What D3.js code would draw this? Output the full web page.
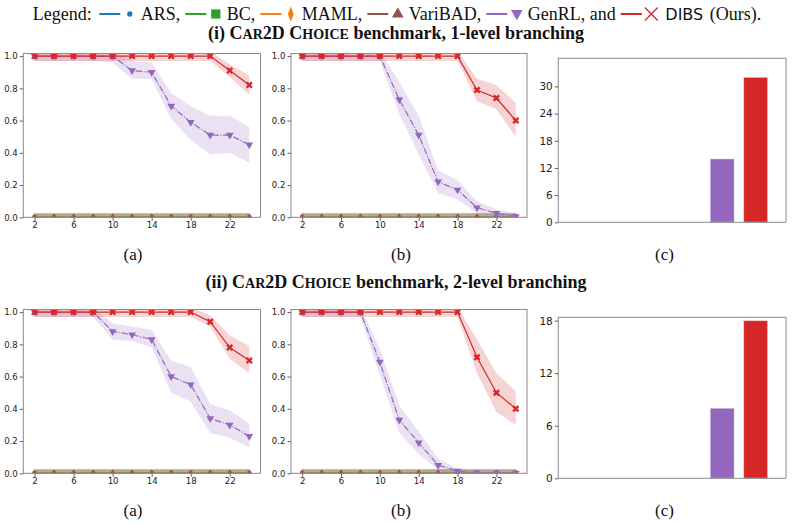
<!DOCTYPE html>
<html><head><meta charset="utf-8">
<script src="https://cdn.jsdelivr.net/npm/d3@7"></script>
<style>body{margin:0;background:#fff} svg{display:block}</style>
</head><body>
<svg id="c" width="793" height="524"></svg>
<script>
// ---------------- DATA ----------------
const steps = [2,4,6,8,10,12,14,16,18,20,22,24];
const methods = ["ARS","BC","MAML","VariBAD","GenRL","DIBS"];
const methodColors = ["#1f77b4","#2ca02c","#ff7f0e","#8c564b","#9467bd","#d62728"];
const xTickValues = [2,6,10,14,18,22];
const yTickValuesLine = [0,0.2,0.4,0.6,0.8,1.0];
const yTickValuesBar1 = [0,6,12,18,24,30];
const yTickValuesBar2 = [0,6,12,18];

// baselines (ARS, BC, MAML, VariBAD) all at zero
const zeroMean = [0,0,0,0,0,0,0,0,0,0,0,0];
const zeroLo   = [-0.025,-0.025,-0.025,-0.025,-0.025,-0.025,-0.025,-0.025,-0.025,-0.025,-0.025,-0.025];
const zeroHi   = [0.025,0.025,0.025,0.025,0.025,0.025,0.025,0.025,0.025,0.025,0.025,0.025];

// (i) 1-level (a)
const genrl1a    = [1,1,1,1,1,0.91,0.90,0.69,0.59,0.51,0.51,0.45];
const genrl1aLo  = [0.97,0.97,0.97,0.97,0.96,0.86,0.86,0.61,0.48,0.39,0.40,0.34];
const genrl1aHi  = [1.03,1.03,1.03,1.03,1.03,0.97,0.96,0.77,0.69,0.63,0.63,0.56];
const dibs1a     = [1,1,1,1,1,1,1,1,1,1,0.91,0.82];
const dibs1aLo   = [0.97,0.97,0.97,0.97,0.97,0.97,0.97,0.97,0.97,0.97,0.87,0.76];
const dibs1aHi   = [1.03,1.03,1.03,1.03,1.03,1.03,1.03,1.03,1.03,1.03,0.95,0.88];
// (i) 1-level (b)
const genrl1b    = [1,1,1,1,1,0.73,0.51,0.22,0.17,0.06,0.025,0.005];
const genrl1bLo  = [0.97,0.97,0.97,0.97,0.97,0.64,0.39,0.15,0.11,0.025,0.005,0];
const genrl1bHi  = [1.03,1.03,1.03,1.03,1.03,0.84,0.63,0.29,0.23,0.10,0.05,0.025];
const dibs1b     = [1,1,1,1,1,1,1,1,1,0.79,0.74,0.60];
const dibs1bLo   = [0.97,0.97,0.97,0.97,0.97,0.97,0.97,0.97,0.97,0.72,0.67,0.50];
const dibs1bHi   = [1.03,1.03,1.03,1.03,1.03,1.03,1.03,1.03,1.03,0.86,0.82,0.71];
// (ii) 2-level (a)
const genrl2a    = [1,1,1,1,0.88,0.86,0.83,0.60,0.55,0.34,0.30,0.23];
const genrl2aLo  = [0.97,0.97,0.97,0.97,0.83,0.82,0.78,0.50,0.445,0.25,0.22,0.16];
const genrl2aHi  = [1.03,1.03,1.03,1.03,0.93,0.91,0.89,0.70,0.66,0.43,0.39,0.31];
const dibs2a     = [1,1,1,1,1,1,1,1,1,0.94,0.78,0.70];
const dibs2aLo   = [0.97,0.97,0.97,0.97,0.97,0.97,0.97,0.97,0.97,0.91,0.71,0.62];
const dibs2aHi   = [1.03,1.03,1.03,1.03,1.03,1.03,1.03,1.03,1.03,0.98,0.855,0.79];
// (ii) 2-level (b)
const genrl2b    = [1,1,1,1,0.69,0.33,0.19,0.05,0.015,0.004,0.002,0.002];
const genrl2bLo  = [0.97,0.97,0.97,0.97,0.61,0.25,0.12,0.02,0,0,0,0];
const genrl2bHi  = [1.03,1.03,1.03,1.03,0.77,0.42,0.26,0.09,0.03,0.01,0.01,0.01];
const dibs2b     = [1,1,1,1,1,1,1,1,1,0.72,0.50,0.40];
const dibs2bLo   = [0.97,0.97,0.97,0.97,0.97,0.97,0.97,0.97,0.97,0.62,0.38,0.30];
const dibs2bHi   = [1.03,1.03,1.03,1.03,1.03,1.03,1.03,1.03,1.03,0.83,0.62,0.51];

// (c) bar values per method
const bars1 = [0,0,0,0,14,32];
const bars2 = [0,0,0,0,8,18];

const legendPrefix = "Legend:";
const legendLabels = ["ARS,","BC,","MAML,","VariBAD,","GenRL, and"];
const oursName = "DIBS";
const oursSuffix = "(Ours).";
const subLabels = ["(a)","(b)","(c)"];

// ---------------- DRAW ----------------
const svg = d3.select("#c");
const serif = "'Liberation Serif','Times New Roman',serif";
const sans = "'DejaVu Sans',sans-serif";

const symbols = {
  ARS: d3.symbolCircle, BC: d3.symbolSquare, MAML: d3.symbolDiamond,
  VariBAD: d3.symbolTriangle, GenRL: d3.symbolTriangle, DIBS: d3.symbolX
};
const dashes = { ARS:null, BC:null, MAML:"4,2", VariBAD:"1.5,1.5", GenRL:"6.4,1.6,1,1.6", DIBS:null };

function markerPath(m, size){
  return d3.symbol().type(symbols[m]).size(size)();
}

let clipId = 0;
function linePanel(box, series){
  const g = svg.append("g");
  const x = d3.scaleLinear().domain([0.85,25.15]).range([box.x0, box.x1]);
  const y = d3.scaleLinear().domain([0,1.016]).range([box.y0, box.y1]);
  const id = "clip" + (clipId++);
  svg.append("clipPath").attr("id", id).append("rect")
    .attr("x", box.x0).attr("y", box.y1).attr("width", box.x1-box.x0).attr("height", box.y0-box.y1);
  const inner = g.append("g").attr("clip-path", `url(#${id})`);
  series.forEach(s => {
    const ci = methods.indexOf(s.name), col = methodColors[ci];
    const pts = steps.map((t,i)=>({t, m:s.mean[i], lo:s.lo[i], hi:s.hi[i]}));
    inner.append("path").datum(pts)
      .attr("d", d3.area().x(d=>x(d.t)).y0(d=>y(d.lo)).y1(d=>y(d.hi)))
      .attr("fill", col).attr("fill-opacity", 0.2).attr("stroke","none");
    inner.append("path").datum(pts)
      .attr("d", d3.line().x(d=>x(d.t)).y(d=>y(d.m)))
      .attr("fill","none").attr("stroke", col).attr("stroke-width", 1.2)
      .attr("stroke-dasharray", dashes[s.name]);
    const mk = inner.selectAll(null).data(pts).enter().append("path")
      .attr("transform", d=>`translate(${x(d.t)},${y(d.m)})` + (s.name==="GenRL" ? " rotate(180)" : ""));
    if (s.name === "DIBS") {
      mk.attr("d", markerPath("DIBS", 20)).attr("fill","none").attr("stroke", col).attr("stroke-width", 2.4);
    } else if (s.name === "GenRL") {
      mk.attr("d", markerPath("GenRL", 26)).attr("fill", col);
    } else {
      mk.attr("d", markerPath(s.name, 18)).attr("fill", col);
    }
  });
  // axes
  const ax = g.append("g").attr("transform", `translate(0,${box.y0})`)
    .call(d3.axisBottom(x).tickValues(xTickValues).tickSize(3.5).tickPadding(1.5));
  const ay = g.append("g").attr("transform", `translate(${box.x0},0)`)
    .call(d3.axisLeft(y).tickValues(yTickValuesLine).tickFormat(d3.format(".1f")).tickSize(3.5).tickPadding(2));
  [ax, ay].forEach(a => {
    a.select(".domain").remove();
    a.selectAll("line").attr("stroke","#333").attr("stroke-width",0.8);
    a.selectAll("text").attr("font-family", sans).attr("font-size", 8.6).attr("fill","#222");
  });
  g.append("rect").attr("x", box.x0).attr("y", box.y1).attr("width", box.x1-box.x0).attr("height", box.y0-box.y1)
    .attr("fill","none").attr("stroke","#8a8a8a").attr("stroke-width",1);
}

function barPanel(box, values, ymax, ticks){
  const g = svg.append("g");
  const x = d3.scaleLinear().domain([-0.91,5.91]).range([box.x0, box.x1]);
  const y = d3.scaleLinear().domain([0,ymax]).range([box.y0, box.y1]);
  g.selectAll(null).data(values).enter().append("rect")
    .attr("x", (d,i)=>x(i-0.36)).attr("width", (d,i)=>x(i+0.36)-x(i-0.36))
    .attr("y", d=>y(d)).attr("height", d=>y(0)-y(d))
    .attr("fill", (d,i)=>methodColors[i])
    .attr("stroke", d=> d>0 ? "rgba(255,255,255,0.45)" : "none").attr("stroke-width", 1);
  const ay = g.append("g").attr("transform", `translate(${box.x0},0)`)
    .call(d3.axisLeft(y).tickValues(ticks).tickSize(3.5).tickPadding(2));
  ay.select(".domain").remove();
  ay.selectAll("line").attr("stroke","#333").attr("stroke-width",0.8);
  ay.selectAll("text").attr("font-family", sans).attr("font-size", 10.5).attr("fill","#222");
  g.append("rect").attr("x", box.x0).attr("y", box.y1).attr("width", box.x1-box.x0).attr("height", box.y0-box.y1)
    .attr("fill","none").attr("stroke","#8a8a8a").attr("stroke-width",1);
}

function zeroSeries(){
  return ["ARS","BC","MAML","VariBAD"].map(n=>({name:n, mean:zeroMean, lo:zeroLo, hi:zeroHi}));
}

// rows
const rows = [
  {yTop:53.5, yBot:217.3, barTop:58.3, barBot:222.3, bars:bars1, barMax:36.2, barTicks:yTickValuesBar1,
   a:[genrl1a,genrl1aLo,genrl1aHi,dibs1a,dibs1aLo,dibs1aHi],
   b:[genrl1b,genrl1bLo,genrl1bHi,dibs1b,dibs1bLo,dibs1bHi]},
  {yTop:309.5, yBot:473.3, barTop:317.3, barBot:478.3, bars:bars2, barMax:18.38, barTicks:yTickValuesBar2,
   a:[genrl2a,genrl2aLo,genrl2aHi,dibs2a,dibs2aLo,dibs2aHi],
   b:[genrl2b,genrl2bLo,genrl2bHi,dibs2b,dibs2bLo,dibs2bHi]}
];
rows.forEach(r => {
  [[r.a, 23.3, 260.5],[r.b, 291, 527]].forEach(([d, x0, x1]) => {
    const ser = zeroSeries().concat([
      {name:"GenRL", mean:d[0], lo:d[1], hi:d[2]},
      {name:"DIBS", mean:d[3], lo:d[4], hi:d[5]}
    ]);
    linePanel({x0, x1, y0:r.yBot, y1:r.yTop}, ser);
  });
  barPanel({x0:558.3, x1:786, y0:r.barBot, y1:r.barTop}, r.bars, r.barMax, r.barTicks);
});

// sub labels
[[0,260],[1,516]].forEach(([ri, by]) => {
  [133, 401, 664.5].forEach((cx, i) => {
    svg.append("text").attr("x", cx).attr("y", by).attr("text-anchor","middle")
      .attr("font-family", serif).attr("font-size", 17).attr("fill","#111").text(subLabels[i]);
  });
});

// titles
function title(y, roman, level){
  const t = svg.append("text").attr("x", 396).attr("y", y).attr("text-anchor","middle")
    .attr("font-family", serif).attr("font-weight","bold").attr("font-size", 18).attr("fill","#111");
  t.append("tspan").text(`(${roman}) C`);
  t.append("tspan").attr("font-size", 14).text("AR");
  t.append("tspan").text("2D C");
  t.append("tspan").attr("font-size", 14).text("HOICE");
  t.append("tspan").text(` benchmark, ${level}-level branching`);
}
title(38.5, "i", 1);
title(288, "ii", 2);

// legend
const lg = svg.append("g");
const ly = 19.5, lmy = 14;
let cx = 0;
function ltext(str, fam, size){
  const t = lg.append("text").attr("x", cx).attr("y", ly).attr("font-family", fam)
    .attr("font-size", size).attr("fill","#111").text(str);
  cx += t.node().getComputedTextLength();
  return t;
}
ltext(legendPrefix, serif, 18);
methods.forEach((m, i) => {
  const col = methodColors[i];
  cx += i===0 ? 7.5 : 5;
  lg.append("line").attr("x1", cx).attr("x2", cx+21).attr("y1", lmy).attr("y2", lmy)
    .attr("stroke", col).attr("stroke-width", 2);
  cx += 21 + 9.5;
  const sizes = {ARS:22, BC:85, MAML:48, VariBAD:60, GenRL:60, DIBS:110};
  const p = lg.append("path").attr("d", markerPath(m, sizes[m]))
    .attr("transform", `translate(${cx},${lmy+ (m==="GenRL"? -0.5 : 0)})` + (m==="GenRL" ? " rotate(180)" : "") + (m==="MAML" ? " scale(0.8,1.15)" : ""));
  if (m === "DIBS") p.attr("fill","none").attr("stroke", col).attr("stroke-width", 1.3);
  else p.attr("fill", col);
  cx += m==="DIBS" ? 14 : 11;
  if (m === "DIBS") {
    ltext(oursName, sans, 16);
    cx += 6.5;
    ltext(oursSuffix, serif, 18);
  } else {
    ltext(legendLabels[i], serif, 18);
  }
});
lg.attr("transform", `translate(${397 - cx/2},0)`);
</script>
</body></html>
